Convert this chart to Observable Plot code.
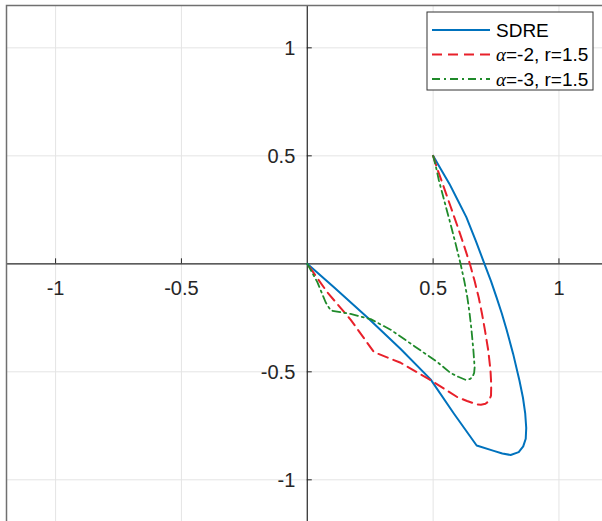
<!DOCTYPE html>
<html>
<head>
<meta charset="utf-8">
<script src="https://cdn.jsdelivr.net/npm/d3@7"></script>
<script src="https://cdn.jsdelivr.net/npm/@observablehq/plot@0.6"></script>
<style>
  html, body { margin: 0; padding: 0; background: #fff; overflow: hidden; }
  #chart svg { display: block; }
</style>
</head>
<body>
<div id="chart"></div>
<script>
// ---- data ----
const xTicks = [-1, -0.5, 0.5, 1];
const xTickLabels = ["-1", "-0.5", "0.5", "1"];
const yTicks = [-1, -0.5, 0.5, 1];
const yTickLabels = ["-1", "-0.5", "0.5", "1"];

const seriesNames = ["SDRE", "=-2, r=1.5", "=-3, r=1.5"];

const sdre = [
  [0.500, 0.500], [0.532, 0.435], [0.565, 0.370], [0.600, 0.290], [0.632, 0.216],
  [0.670, 0.105], [0.704, 0.000], [0.730, -0.080], [0.752, -0.155], [0.773, -0.230],
  [0.792, -0.305], [0.818, -0.417], [0.843, -0.540], [0.857, -0.620], [0.866, -0.694],
  [0.870, -0.760], [0.868, -0.810], [0.858, -0.845], [0.840, -0.872], [0.808, -0.885],
  [0.775, -0.878], [0.741, -0.866], [0.673, -0.841], [0.583, -0.694], [0.490, -0.535],
  [0.371, -0.394], [0.238, -0.247], [0.106, -0.108], [0.000, 0.000]
];

const alphaMinus2 = [
  [0.500, 0.500], [0.518, 0.435], [0.538, 0.370], [0.568, 0.270], [0.598, 0.170],
  [0.624, 0.080], [0.646, 0.000], [0.665, -0.080], [0.681, -0.155], [0.694, -0.230],
  [0.705, -0.301], [0.719, -0.400], [0.728, -0.494], [0.731, -0.560], [0.730, -0.610],
  [0.722, -0.635], [0.708, -0.648], [0.690, -0.652], [0.675, -0.651], [0.635, -0.635],
  [0.596, -0.617], [0.485, -0.535], [0.371, -0.458], [0.265, -0.409], [0.172, -0.258],
  [0.079, -0.131], [0.000, 0.000]
];

const alphaMinus3 = [
  [0.500, 0.500], [0.512, 0.445], [0.523, 0.386], [0.546, 0.285], [0.569, 0.185],
  [0.590, 0.090], [0.609, 0.000], [0.624, -0.080], [0.636, -0.155], [0.645, -0.230],
  [0.652, -0.301], [0.660, -0.400], [0.665, -0.479], [0.663, -0.505], [0.656, -0.525],
  [0.645, -0.534], [0.629, -0.537], [0.600, -0.523], [0.569, -0.505], [0.517, -0.455],
  [0.424, -0.380], [0.331, -0.305], [0.252, -0.256], [0.172, -0.232], [0.093, -0.216],
  [0.073, -0.178], [0.040, -0.085], [0.000, 0.000]
];

// ---- styles ----
const FONT = "Liberation Sans, Arial, Helvetica, sans-serif";
const colors = ["#0072BD", "#e8202a", "#1f8a2a"];
const dashes = [null, "10,6", "8,4,2,4"];
const widths = [2, 2, 1.8];
const gridColor = "#e4e4e4";
const axisColor = "#262626";

const xLabelData = xTicks.map((v, i) => ({v, label: xTickLabels[i]}));
const yLabelData = yTicks.map((v, i) => ({v, label: yTickLabels[i]}));

const series = [sdre, alphaMinus2, alphaMinus3];

const svg = Plot.plot({
  width: 602,
  height: 521,
  marginLeft: 6,
  marginTop: 5,
  marginRight: 0,
  marginBottom: 0,
  style: {background: "#fff", fontFamily: FONT, overflow: "hidden"},
  x: {domain: [-1.195, 1.173], axis: null},
  y: {domain: [-1.193, 1.196], axis: null},
  marks: [
    Plot.ruleX(xTicks, {stroke: gridColor, strokeWidth: 1}),
    Plot.ruleY(yTicks, {stroke: gridColor, strokeWidth: 1}),
    Plot.ruleX([0], {stroke: axisColor, strokeWidth: 1.2}),
    Plot.ruleY([0], {stroke: axisColor, strokeWidth: 1.2}),
    // tick marks on the axes through the origin
    Plot.ruleX(xTicks, {x: d => d, y1: 0, y2: 0, insetTop: -5, stroke: axisColor, strokeWidth: 1}),
    Plot.ruleY(yTicks, {y: d => d, x1: 0, x2: 0, insetRight: -5, stroke: axisColor, strokeWidth: 1}),
    // curves
    ...series.map((s, i) => Plot.line(s, {
      x: d => d[0], y: d => d[1],
      stroke: colors[i], strokeWidth: widths[i],
      strokeDasharray: dashes[i],
      strokeLinejoin: "round",
      curve: "linear"
    })),
    // tick labels
    Plot.text(xLabelData, {x: "v", y: 0, dy: 25, text: "label", fontSize: 20, fill: axisColor, textAnchor: "middle"}),
    Plot.text(yLabelData, {x: 0, y: "v", dx: -12, dy: 1, text: "label", fontSize: 20, fill: axisColor, textAnchor: "end"}),
    Plot.frame({stroke: "#707070", strokeWidth: 1.5, insetRight: -10, insetBottom: -10})
  ]
});

// ---- legend (top right, inside the axes) ----
const g = d3.select(svg).append("g").attr("font-family", FONT).attr("text-anchor", "start");
const lx = 427, ly = 12, lw = 166, lh = 78;
g.append("rect").attr("x", lx).attr("y", ly).attr("width", lw).attr("height", lh)
  .attr("fill", "#fff").attr("stroke", "#333").attr("stroke-width", 1);
const rowY = [30, 54.5, 79];
seriesNames.forEach((name, i) => {
  g.append("line")
    .attr("x1", 432).attr("x2", 490).attr("y1", rowY[i]).attr("y2", rowY[i])
    .attr("stroke", colors[i]).attr("stroke-width", widths[i])
    .attr("stroke-dasharray", dashes[i]);
  const t = g.append("text").attr("x", 496).attr("y", rowY[i]).attr("dy", "0.35em")
    .attr("text-anchor", "start")
    .attr("font-size", 19).attr("fill", "#000");
  if (i > 0) {
    t.append("tspan").attr("font-family", "Liberation Serif, DejaVu Serif, serif")
      .attr("font-style", "italic").text("\u03B1");
  }
  t.append("tspan").text(name);
});

document.getElementById("chart").appendChild(svg);
</script>
</body>
</html>
